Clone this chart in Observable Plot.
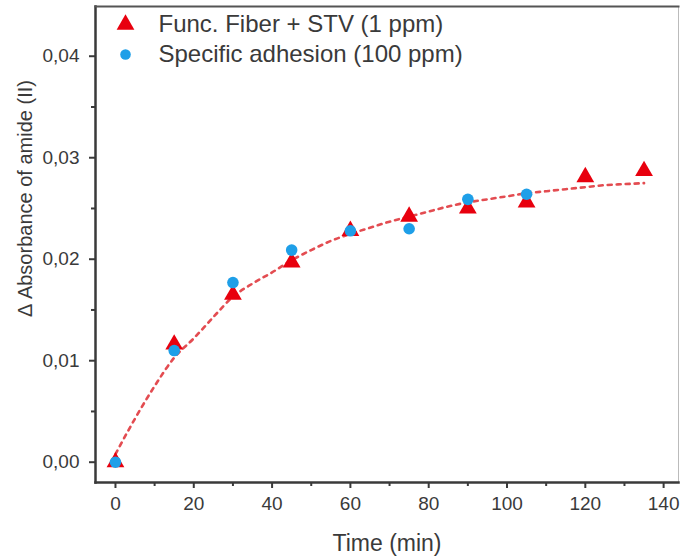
<!DOCTYPE html>
<html>
<head>
<meta charset="utf-8">
<script src="https://cdn.jsdelivr.net/npm/d3@7"></script>
<script src="https://cdn.jsdelivr.net/npm/@observablehq/plot@0.6"></script>
<style>
  html, body { margin: 0; padding: 0; background: #fff; }
  #chart { width: 680px; height: 558px; }
</style>
</head>
<body>
<div id="chart"></div>
<script>
// ---- data ----
const seriesNames = ["Func. Fiber + STV (1 ppm)", "Specific adhesion (100 ppm)"];
const times = [0, 15, 30, 45, 60, 75, 90, 105, 120, 135];
const fiberValues = [0.0000, 0.0116, 0.0165, 0.0197, 0.0228, 0.0242, 0.0250, 0.0256, 0.0281, 0.0287];
const adhesionTimes = [0, 15, 30, 45, 60, 75, 90, 105];
const adhesionValues = [0.0000, 0.0110, 0.0177, 0.0209, 0.0228, 0.0230, 0.0259, 0.0264];
const fitTimes = [0, 5, 10, 15, 20, 25, 30, 35, 40, 45, 50, 55, 60, 65, 70, 75, 80, 85, 90, 95, 100, 105, 110, 115, 120, 125, 130, 135];
const fitValues = [0.0008, 0.0043, 0.0075, 0.0103, 0.0122, 0.0143, 0.0163, 0.0176, 0.0187, 0.0199, 0.0209, 0.0218, 0.0225, 0.0231, 0.0237, 0.0242, 0.0247, 0.0252, 0.0256, 0.0259, 0.0262, 0.0265, 0.0267, 0.0269, 0.0271, 0.0273, 0.0274, 0.0275];
const xTicks = [0, 20, 40, 60, 80, 100, 120, 140];
const xMinorTicks = [10, 30, 50, 70, 90, 110, 130];
const yTicks = [0, 0.01, 0.02, 0.03, 0.04];
const yMinorTicks = [0.005, 0.015, 0.025, 0.035];
const xLabel = "Time (min)";
const yLabel = "Δ Absorbance of amide (II)";

const fiber = times.map((t, i) => ({t, v: fiberValues[i]}));
const adhesion = adhesionTimes.map((t, i) => ({t, v: adhesionValues[i]}));
const fit = fitTimes.map((t, i) => ({t, v: fitValues[i]}));

const RED = "#e8000e";
const BLUE = "#1e9fe8";
const INK = "#3a3a3a";
const FONT = "'Liberation Sans', Arial, sans-serif";
const fmt = d => d.toFixed(2).replace(".", ",");

const chart = Plot.plot({
  width: 680,
  height: 558,
  marginLeft: 95,
  marginRight: 2,
  marginTop: 6,
  marginBottom: 76,
  style: {fontFamily: FONT, fontSize: "19px", color: INK, background: "#fff", overflow: "visible"},
  x: {domain: [-5.1, 143.8]},
  y: {domain: [-0.002, 0.0449]},
  marks: [
    // frame
    Plot.frame({stroke: "#bbb", strokeWidth: 1}),
    Plot.axisX({ticks: xTicks, tickSize: 6, tickPadding: 8, tickFormat: d => String(d), stroke: INK, strokeWidth: 2, fill: INK, fontSize: 19, label: null}),
    Plot.axisX({ticks: xMinorTicks, tickSize: 4, tickFormat: () => "", stroke: INK, strokeWidth: 2, label: null}),
    Plot.axisY({ticks: yTicks, tickSize: 6, tickPadding: 10, tickFormat: fmt, stroke: INK, strokeWidth: 2, fill: INK, fontSize: 19, label: null}),
    Plot.axisY({ticks: yMinorTicks, tickSize: 4, tickFormat: () => "", stroke: INK, strokeWidth: 2, label: null}),
    Plot.frame({anchor: "left", stroke: INK, strokeWidth: 2.5}),
    Plot.frame({anchor: "bottom", stroke: INK, strokeWidth: 2.5}),
    Plot.frame({anchor: "top", stroke: "#555", strokeWidth: 2}),
    // fit curve
    Plot.line(fit, {x: "t", y: "v", stroke: "#e0393e", strokeWidth: 2.6, strokeDasharray: "4,5", strokeOpacity: 0.9, curve: "monotone-x"}),
    // data
    Plot.dot(fiber, {x: "t", y: "v", symbol: "triangle", r: 6.6, fill: RED, stroke: "none"}),
    Plot.dot(adhesion, {x: "t", y: "v", symbol: "circle", r: 5.8, fill: BLUE, stroke: "none"}),
    // legend
    Plot.dot([seriesNames[0]], {frameAnchor: "top-left", dx: 30, dy: 18, symbol: "triangle", r: 6.6, fill: RED}),
    Plot.dot([seriesNames[1]], {frameAnchor: "top-left", dx: 30, dy: 48, symbol: "circle", r: 5.3, fill: BLUE}),
    Plot.text([seriesNames[0]], {frameAnchor: "top-left", dx: 63, dy: 18, text: d => d, textAnchor: "start", lineAnchor: "middle", fontSize: 24, fill: INK}),
    Plot.text([seriesNames[1]], {frameAnchor: "top-left", dx: 63, dy: 48, text: d => d, textAnchor: "start", lineAnchor: "middle", fontSize: 24, fill: INK}),
    // axis titles
    Plot.text([xLabel], {frameAnchor: "bottom", dy: 61, text: d => d, lineAnchor: "middle", fontSize: 23, fill: INK}),
    Plot.text([yLabel], {frameAnchor: "left", dx: -70, dy: -46, rotate: -90, text: d => d, textAnchor: "middle", lineAnchor: "middle", fontSize: 20, fill: INK})
  ]
});
document.getElementById("chart").appendChild(chart);
</script>
</body>
</html>
